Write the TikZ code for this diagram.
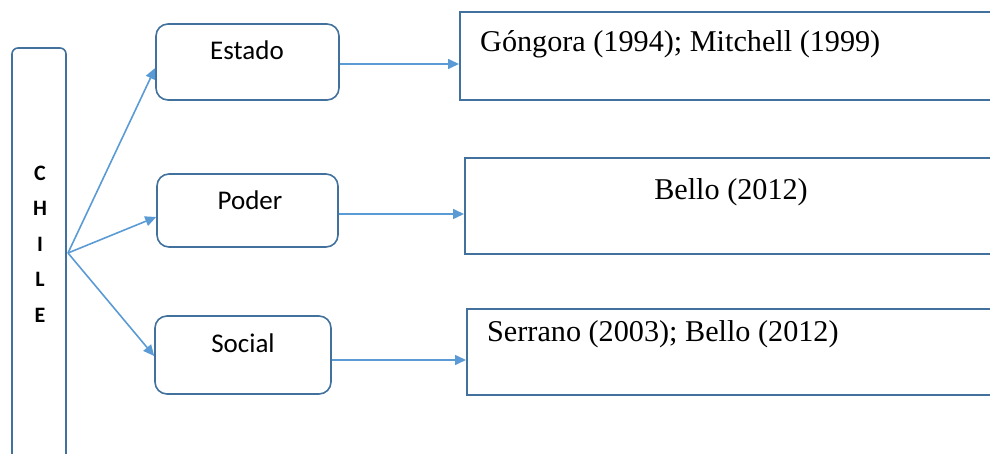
\documentclass[tikz,border=0pt]{standalone}
\usepackage{fontspec}
\setmainfont{Liberation Serif}
\newfontfamily\calfont{Carlito}
\usetikzlibrary{arrows.meta}
\definecolor{boxblue}{HTML}{41719C}
\definecolor{arrblue}{HTML}{5B9BD5}
\tikzset{
  rbox/.style={draw=boxblue, line width=1.6pt, rounded corners=12pt, inner sep=0pt},
  refbox/.style={draw=boxblue, line width=1.6pt, inner sep=0pt},
  lbl/.style={font=\calfont\fontsize{27}{30}\selectfont, inner sep=0pt},
  reftxt/.style={font=\fontsize{30.2}{33}\selectfont, inner sep=0pt},
  arr/.style={draw=arrblue, line width=1.6pt, -{Triangle[length=11pt,width=10pt]}}
}
\begin{document}
\begin{tikzpicture}[x=1pt,y=-1pt]
\useasboundingbox (0,0) rectangle (990,454);
% CHILE column
\node[draw=boxblue, line width=1.6pt, rounded corners=6pt, minimum width=54pt, minimum height=430pt, inner sep=0pt] (chile) at (39,263) {};
\node[font=\calfont\bfseries\fontsize{22}{35.5}\selectfont, align=center, inner sep=0pt] (chiletxt) at (40,244) {C\\H\\I\\L\\E};
\coordinate (src) at (68,253);
% middle boxes
\node[rbox, minimum width=183pt, minimum height=76pt] (estado) at (247.5,62) {};
\node[lbl] (estadotxt) at (247,50) {Estado};
\node[rbox, minimum width=181pt, minimum height=73pt] (poder) at (247.5,210.5) {};
\node[lbl] (podertxt) at (250,200) {Poder};
\node[rbox, minimum width=176pt, minimum height=78pt] (social) at (243,355) {};
\node[lbl] (socialtxt) at (243,343) {Social};
% reference boxes
\node[refbox, minimum width=545pt, minimum height=88pt, anchor=north west] (r1) at (459,11) {};
\node[reftxt, anchor=west] (r1txt) at (480,44) {Góngora (1994); Mitchell (1999)};
\node[refbox, minimum width=540pt, minimum height=96pt, anchor=north west] (r2) at (464,157) {};
\node[reftxt] (r2txt) at (731,192) {Bello (2012)};
\node[refbox, minimum width=538pt, minimum height=86pt, anchor=north west] (r3) at (466,308) {};
\node[reftxt, anchor=west] (r3txt) at (487,334) {Serrano (2003); Bello (2012)};
% connectors
\draw[arr] (src) -- (estado.west |- 0,68);
\draw[arr] (src) -- (poder.west |- 0,217);
\draw[arr] (src) -- (social.west |- 0,356);
\draw[arr] (estado.east |- 0,64) -- (r1.west |- 0,64);
\draw[arr] (poder.east |- 0,214) -- (r2.west |- 0,214);
\draw[arr] (social.east |- 0,360) -- (r3.west |- 0,360);
\end{tikzpicture}
\end{document}
